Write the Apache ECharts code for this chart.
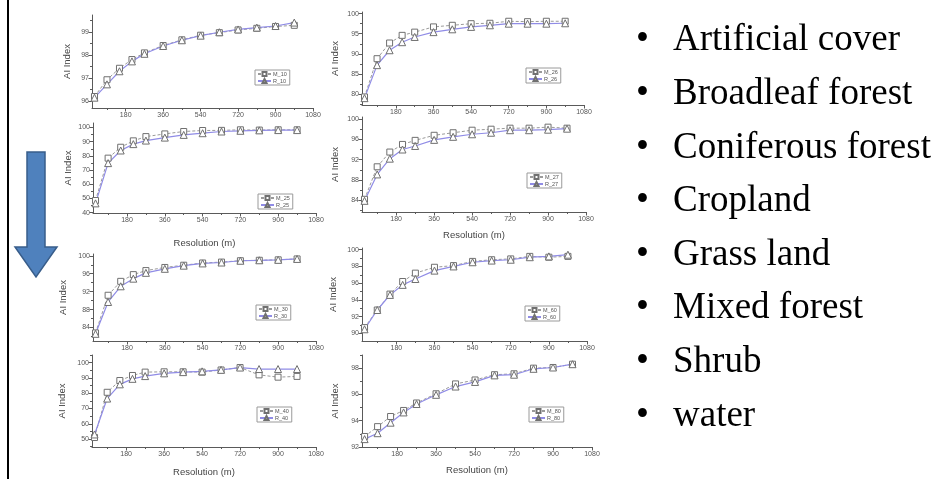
<!DOCTYPE html>
<html><head><meta charset="utf-8">
<script src="https://cdn.jsdelivr.net/npm/echarts@6/dist/echarts.min.js"></script>
<style>html,body{margin:0;padding:0;background:#fff}#c{width:939px;height:479px}</style>
</head><body><div id="c"></div>
<script>
// ---------- data ----------
const resolution = [30, 90, 150, 210, 270, 360, 450, 540, 630, 720, 810, 900, 990];
const xTickLabels = [180, 360, 540, 720, 900, 1080];
const xMinorTicks = [90, 270, 450, 630, 810, 990];

const m10 = [96.2, 96.93, 97.43, 97.81, 98.1, 98.42, 98.67, 98.87, 98.98, 99.1, 99.17, 99.25, 99.3];
const r10 = [96.15, 96.73, 97.3, 97.73, 98.06, 98.4, 98.65, 98.85, 99.0, 99.12, 99.2, 99.27, 99.42];
const m26 = [79.3, 88.8, 92.7, 94.6, 95.4, 96.7, 97.1, 97.5, 97.6, 98.1, 98.0, 98.1, 98.1];
const r26 = [79.0, 87.2, 90.9, 92.9, 94.2, 95.4, 96.1, 96.7, 97.1, 97.5, 97.5, 97.5, 97.6];
const m25 = [48.5, 78.4, 86.1, 90.6, 93.6, 95.5, 97.2, 97.9, 98.0, 98.4, 98.2, 98.4, 98.4];
const r25 = [46.5, 74.9, 83.8, 88.3, 90.8, 92.9, 94.8, 96.0, 97.2, 97.7, 98.0, 98.2, 98.2];
const m27 = [84.2, 90.6, 93.5, 95.0, 95.8, 96.8, 97.3, 97.8, 98.0, 98.2, 98.2, 98.4, 98.2];
const r27 = [83.9, 89.1, 92.2, 94.0, 94.7, 95.9, 96.5, 97.0, 97.3, 97.8, 97.8, 97.9, 98.1];
const m30 = [82.8, 91.2, 94.3, 95.8, 96.7, 97.4, 97.9, 98.4, 98.6, 98.9, 99.0, 99.1, 99.3];
const r30 = [82.6, 89.7, 93.2, 94.9, 96.2, 97.1, 97.8, 98.3, 98.5, 98.9, 99.0, 99.1, 99.3];
const m60 = [90.7, 92.8, 94.7, 96.2, 97.2, 97.9, 98.1, 98.6, 98.8, 98.9, 99.2, 99.1, 99.2];
const r60 = [90.5, 92.8, 94.6, 95.8, 96.5, 97.5, 98.0, 98.5, 98.7, 98.8, 99.1, 99.2, 99.4];
const m40 = [51.0, 80.6, 88.3, 91.6, 93.8, 94.0, 94.0, 93.8, 95.2, 96.8, 92.0, 90.5, 91.0];
const r40 = [53.0, 76.5, 85.8, 89.4, 91.2, 93.0, 93.8, 94.3, 95.3, 96.8, 95.8, 95.8, 95.8];
const m80 = [92.8, 93.55, 94.32, 94.78, 95.35, 96.05, 96.8, 97.1, 97.5, 97.57, 98.0, 98.05, 98.3];
const r80 = [92.6, 93.05, 93.85, 94.63, 95.27, 95.97, 96.6, 96.95, 97.45, 97.5, 97.95, 98.05, 98.3];

const yTicks10 = [96, 97, 98, 99];
const yTicks26 = [80, 85, 90, 95, 100];
const yTicks25 = [40, 50, 60, 70, 80, 90, 100];
const yTicks27 = [84, 88, 92, 96, 100];
const yTicks30 = [84, 88, 92, 96, 100];
const yTicks60 = [90, 92, 94, 96, 98, 100];
const yTicks40 = [50, 60, 70, 80, 90, 100];
const yTicks80 = [92, 94, 96, 98];

const bulletItems = ['Artificial cover', 'Broadleaf forest', 'Coniferous forest', 'Cropland', 'Grass land', 'Mixed forest', 'Shrub', 'water'];

// ---------- layout ----------
const xMin = 18, xMax = 1080;
const panels = [
  {code:'10', m:m10, r:r10, ticks:yTicks10, L:92, R:313, T:15, B:108, yMin:95.7, yMax:99.75, yGap:19.5, xName:false, lg:[255,70]},
  {code:'26', m:m26, r:r26, ticks:yTicks26, L:362, R:584, T:12, B:105, yMin:77.3, yMax:100.4, yGap:22, xName:false, lg:[526,68]},
  {code:'25', m:m25, r:r25, ticks:yTicks25, L:93, R:316, T:123, B:213, yMin:39.7, yMax:103.2, yGap:20, xName:true, xGap:25, lg:[258,194]},
  {code:'27', m:m27, r:r27, ticks:yTicks27, L:362, R:586, T:117, B:212, yMin:81.7, yMax:100.4, yGap:22, xName:true, xGap:18, lg:[527,173]},
  {code:'30', m:m30, r:r30, ticks:yTicks30, L:93, R:316, T:254, B:341, yMin:81.0, yMax:100.4, yGap:25, xName:false, lg:[256,305]},
  {code:'60', m:m60, r:r60, ticks:yTicks60, L:362, R:587, T:248, B:341, yMin:89.1, yMax:100.2, yGap:24, xName:false, lg:[525,306]},
  {code:'40', m:m40, r:r40, ticks:yTicks40, L:92, R:316, T:355, B:447, yMin:44.8, yMax:105, yGap:25, xName:true, xGap:20, lg:[257,407]},
  {code:'80', m:m80, r:r80, ticks:yTicks80, L:362, R:592, T:355, B:447, yMin:92, yMax:99, yGap:22, xName:true, xGap:18, lg:[529,407]}
];

const axisColor = '#5a5a5a';
const grid = [], xAxis = [], yAxis = [], series = [], legend = [], graphic = [];
const plain = v => String(v);

panels.forEach((p, i) => {
  grid.push({left:p.L, top:p.T, width:p.R - p.L, height:p.B - p.T});
  const step = p.ticks[1] - p.ticks[0];
  const yMinor = [];
  for (let v = p.ticks[0] - step / 2; v <= p.yMax; v += step) if (v >= p.yMin) yMinor.push(v);
  const lineCommon = {show:true, onZero:false, lineStyle:{color:axisColor, width:1}};
  xAxis.push({
    type:'value', gridIndex:i, position:'bottom', min:xMin, max:xMax,
    axisLine:lineCommon, splitLine:{show:false},
    axisTick:{show:true, length:3.5, customValues:xTickLabels, lineStyle:{color:axisColor}},
    axisLabel:{customValues:xTickLabels, formatter:plain, fontSize:7, color:'#555', margin:4},
    name:p.xName ? 'Resolution (m)' : '', nameLocation:'middle', nameGap:p.xGap || 20,
    nameTextStyle:{fontSize:9.5, color:'#444'}
  });
  xAxis.push({
    type:'value', gridIndex:i, position:'bottom', min:xMin, max:xMax,
    axisLine:{show:false}, splitLine:{show:false}, axisLabel:{show:false},
    axisTick:{show:true, length:2, customValues:xMinorTicks, lineStyle:{color:axisColor}}
  });
  yAxis.push({
    type:'value', gridIndex:i, position:'left', min:p.yMin, max:p.yMax,
    axisLine:lineCommon, splitLine:{show:false},
    axisTick:{show:true, length:3.5, customValues:p.ticks, lineStyle:{color:axisColor}},
    axisLabel:{customValues:p.ticks, formatter:plain, fontSize:7, color:'#555', margin:3},
    name:'AI Index', nameLocation:'middle', nameGap:p.yGap,
    nameTextStyle:{fontSize:9.5, color:'#444'}
  });
  yAxis.push({
    type:'value', gridIndex:i, position:'left', min:p.yMin, max:p.yMax,
    axisLine:{show:false}, splitLine:{show:false}, axisLabel:{show:false},
    axisTick:{show:true, length:2, customValues:yMinor, lineStyle:{color:axisColor}}
  });
  const mName = 'M_' + p.code, rName = 'R_' + p.code;
  series.push({
    name:mName, type:'line', xAxisIndex:2*i, yAxisIndex:2*i,
    data:resolution.map((x, k) => [x, p.m[k]]),
    symbol:'rect', symbolSize:6, showAllSymbol:true,
    lineStyle:{color:'#9a9a9a', width:1, type:[3,2]},
    itemStyle:{color:'#fff', borderColor:'#707070', borderWidth:1}
  });
  series.push({
    name:rName, type:'line', xAxisIndex:2*i, yAxisIndex:2*i,
    data:resolution.map((x, k) => [x, p.r[k]]),
    symbol:'triangle', symbolSize:7, showAllSymbol:true,
    lineStyle:{color:'#908ce6', width:1.2},
    itemStyle:{color:'#fff', borderColor:'#707070', borderWidth:1}
  });
  legend.push({
    data:[mName, rName], left:p.lg[0], top:p.lg[1], orient:'vertical',
    itemWidth:13, itemHeight:5, itemGap:1, padding:[1,3,1,2],
    borderColor:'#9a9a9a', borderWidth:1, selectedMode:false,
    textStyle:{fontSize:5.5, color:'#555', padding:[0,0,0,-3]}
  });
});

// slide decorations
graphic.push({type:'line', shape:{x1:8, y1:0, x2:8, y2:479}, style:{stroke:'#000', lineWidth:2}});
graphic.push({type:'polygon',
  shape:{points:[[27,152],[45,152],[45,247],[57,247],[36,277],[15,247],[27,247]]},
  style:{fill:'#4f81bd', stroke:'#385d8a', lineWidth:1.5}});
bulletItems.forEach((t, i) => {
  const base = 52 + i * 53.6;
  graphic.push({type:'text', x:636, y:base - 11.3,
    style:{text:'\u2022', font:'37px "Liberation Serif"', fill:'#000', verticalAlign:'middle'}});
  graphic.push({type:'text', x:673, y:base - 11.3,
    style:{text:t, font:'37px "Liberation Serif"', fill:'#000', verticalAlign:'middle'}});
});

const chart = echarts.init(document.getElementById('c'), null, {renderer:'canvas'});
chart.setOption({
  animation:false,
  backgroundColor:'#fff',
  textStyle:{fontFamily:'Liberation Sans'},
  grid, xAxis, yAxis, series, legend, graphic
});
</script></body></html>
